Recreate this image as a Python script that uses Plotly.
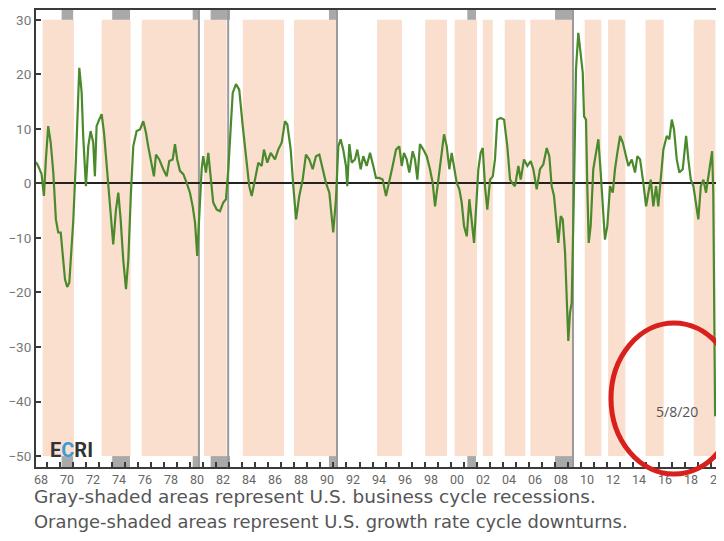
import plotly.graph_objects as go

# ---------------- data ----------------
years = [1968.12, 1968.29, 1968.55, 1968.73, 1968.88, 1969.06, 1969.25, 1969.45, 1969.65, 1969.83,
         1970.02, 1970.22, 1970.35, 1970.52, 1970.68, 1970.86, 1970.98, 1971.19, 1971.29, 1971.45,
         1971.63, 1971.75, 1971.96, 1972.14, 1972.32, 1972.52, 1972.65, 1972.78, 1972.98, 1973.17,
         1973.35, 1973.60, 1973.81, 1974.06, 1974.27, 1974.45, 1974.63, 1974.83, 1975.04, 1975.22,
         1975.42, 1975.60, 1975.86, 1976.12, 1976.37, 1976.58, 1976.75, 1977.02, 1977.19, 1977.35,
         1977.60, 1977.91, 1978.17, 1978.37, 1978.63, 1978.81, 1978.98, 1979.19, 1979.45, 1979.71,
         1979.96, 1980.17, 1980.35, 1980.52, 1980.68, 1980.86, 1980.98, 1981.19, 1981.37, 1981.55,
         1981.75, 1982.02, 1982.27, 1982.52, 1982.73, 1982.91, 1983.04, 1983.25, 1983.50, 1983.75,
         1984.02, 1984.27, 1984.52, 1984.71, 1984.96, 1985.22, 1985.48, 1985.65, 1985.91, 1986.17,
         1986.50, 1986.75, 1987.02, 1987.27, 1987.45, 1987.71, 1987.91, 1988.12, 1988.37, 1988.63,
         1988.88, 1989.14, 1989.40, 1989.65, 1989.91, 1990.17, 1990.42, 1990.68, 1990.86, 1990.98,
         1991.19, 1991.37, 1991.55, 1991.75, 1991.96, 1992.06, 1992.22, 1992.40, 1992.65, 1992.83,
         1993.09, 1993.29, 1993.55, 1993.81, 1994.06, 1994.27, 1994.52, 1994.78, 1995.04, 1995.29,
         1995.55, 1995.81, 1996.06, 1996.25, 1996.42, 1996.63, 1996.83, 1997.09, 1997.27, 1997.45,
         1997.65, 1997.91, 1998.17, 1998.42, 1998.63, 1998.81, 1999.06, 1999.25, 1999.50, 1999.71,
         1999.91, 2000.09, 2000.27, 2000.48, 2000.68, 2000.86, 2001.04, 2001.25, 2001.45, 2001.63,
         2001.81, 2001.96, 2002.14, 2002.32, 2002.48, 2002.65, 2002.83, 2003.04, 2003.25, 2003.42,
         2003.60, 2003.86, 2004.12, 2004.37, 2004.58, 2004.83, 2004.96, 2005.22, 2005.40, 2005.65,
         2005.91, 2006.17, 2006.37, 2006.63, 2006.88, 2007.14, 2007.40, 2007.60, 2007.78, 2007.96,
         2008.17, 2008.29, 2008.48, 2008.63, 2008.81, 2008.94, 2009.06, 2009.19, 2009.32, 2009.50,
         2009.65, 2009.83, 2010.02, 2010.17, 2010.27, 2010.42, 2010.52, 2010.63, 2010.78, 2010.98,
         2011.19, 2011.37, 2011.55, 2011.71, 2011.88, 2012.06, 2012.27, 2012.48, 2012.65, 2012.83,
         2013.04, 2013.25, 2013.42, 2013.68, 2013.94, 2014.19, 2014.37, 2014.58, 2014.83, 2015.04,
         2015.22, 2015.40, 2015.60, 2015.81, 2015.98, 2016.17, 2016.37, 2016.63, 2016.83, 2017.02,
         2017.19, 2017.40, 2017.60, 2017.86, 2018.12, 2018.29, 2018.48, 2018.68, 2018.88, 2019.06,
         2019.25, 2019.45, 2019.65, 2019.83, 2020.01, 2020.12, 2020.21, 2020.27, 2020.31, 2020.35]
growth = [3.9, 3.2, 1.7, -2.3, 4.4, 10.5, 7.5, 2.0, -6.6, -9.0,
          -9.0, -14.0, -17.6, -19.0, -18.2, -11.5, -7.2, 4.4, 11.7, 21.2,
          16.7, 8.7, -0.5, 6.8, 9.6, 7.5, 1.3, 10.5, 11.7, 12.7,
          9.3, 2.6, -4.2, -11.2, -4.8, -1.7, -6.6, -14.0, -19.4, -14.0,
          -1.7, 6.8, 9.6, 9.9, 11.4, 9.3, 6.8, 3.2, 1.3, 5.3,
          4.4, 2.6, 1.3, 4.1, 4.4, 7.2, 4.4, 2.3, 1.7, 0.1,
          -1.7, -4.2, -7.2, -13.3, -4.8, 2.6, 5.0, 2.0, 5.6, 1.3,
          -3.5, -4.8, -5.1, -3.5, -2.9, 2.6, 8.7, 16.6, 18.2, 17.2,
          10.5, 4.4, -0.5, -2.3, 0.7, 3.8, 3.2, 6.2, 3.8, 5.6,
          4.4, 6.2, 7.5, 11.4, 10.8, 6.2, -0.5, -6.6, -2.3, 0.7,
          5.3, 4.4, 2.6, 5.0, 5.3, 2.6, 0.1, -1.7, -5.4, -9.0,
          -2.9, 6.8, 8.1, 6.2, 3.2, -0.5, 7.2, 3.8, 4.4, 6.2,
          2.6, 5.0, 3.2, 5.6, 3.2, 1.0, 1.0, 0.7, -2.3, 0.7,
          3.2, 6.2, 6.8, 3.2, 5.6, 4.4, 2.0, 5.9, 4.4, 0.7,
          7.2, 6.2, 5.0, 2.6, 0.1, -4.2, 0.7, 4.4, 9.0, 6.8,
          2.6, 5.6, 3.2, 0.1, -1.1, -3.5, -7.8, -9.7, -2.9, -6.6,
          -10.9, -4.8, 2.6, 5.6, 6.5, -0.5, -4.8, 0.7, 1.3, 4.4,
          11.7, 12.0, 11.7, 6.8, 0.7, -0.2, -0.5, 3.2, 0.7, 4.4,
          3.2, 4.1, 2.6, -1.1, 2.6, 3.5, 6.5, 5.0, -0.5, -2.3,
          -7.8, -10.9, -6.0, -6.6, -12.7, -23.1, -28.9, -23.7, -21.9, -0.5,
          20.9, 27.6, 24.0, 20.3, 12.3, 11.7, -0.5, -10.9, -7.8, 2.6,
          5.6, 8.1, 2.0, -4.2, -10.3, -7.8, -0.5, -1.7, 2.6, 5.6,
          8.7, 7.5, 5.6, 3.2, 4.4, 2.0, 5.0, 4.4, 0.1, -4.2,
          -1.7, 0.7, -4.2, -0.5, -4.2, 0.7, 6.2, 8.7, 8.1, 11.7,
          9.9, 4.4, 2.0, 2.6, 8.7, 4.4, 0.7, -0.5, -4.2, -6.6,
          -0.5, 0.7, -1.7, 1.3, 4.4, 5.9, -1.7, -25.0, -32.9, -42.7]

# growth rate cycle downturns (orange)
downturn_start = [1968.63, 1973.17, 1976.25, 1981.04, 1984.02, 1987.96, 1994.35, 1998.06, 2000.32,
                  2002.48, 2004.17, 2006.14, 2010.32, 2012.12, 2015.00, 2018.71]
downturn_end = [1971.04, 1975.40, 1980.63, 1982.78, 1987.19, 1991.29, 1996.27, 1999.73, 2002.04,
                2003.25, 2005.75, 2009.48, 2011.60, 2013.45, 2016.40, 2020.37]

# business cycle recessions (gray)
recession_start = [1970.09, 1973.98, 1980.17, 1981.55, 1990.65, 2001.29, 2008.04]
recession_end = [1970.98, 1975.35, 1980.68, 1983.04, 1991.29, 2001.96, 2009.50]
recession_line = [1980.65, 1982.90, 1991.27, 2009.42]

tick_years = list(range(1968, 2021, 2))
tick_labels = ["%02d" % (y % 100) for y in tick_years]
y_ticks = [30, 20, 10, 0, -10, -20, -30, -40, -50]

X_RANGE = [1968.12, 2020.88]
Y_RANGE = [-52.0, 31.8]

# ---------------- figure ----------------
fig = go.Figure()

shapes = []
for s, e in zip(downturn_start, downturn_end):
    shapes.append(dict(type="rect", xref="x", yref="y", x0=s, x1=e, y0=-50, y1=30,
                       fillcolor="#fadfcf", line=dict(width=0), layer="below"))
for s, e in zip(recession_start, recession_end):
    shapes.append(dict(type="rect", xref="x", yref="y", x0=s, x1=e, y0=30, y1=Y_RANGE[1],
                       fillcolor="#a9a9a9", line=dict(width=0), layer="below"))
    shapes.append(dict(type="rect", xref="x", yref="y", x0=s, x1=e, y0=Y_RANGE[0], y1=-50,
                       fillcolor="#a9a9a9", line=dict(width=0), layer="below"))
for xl in recession_line:
    shapes.append(dict(type="line", xref="x", yref="y", x0=xl, x1=xl, y0=Y_RANGE[0], y1=Y_RANGE[1],
                       line=dict(color="#9a9a9a", width=2), layer="below"))
# red circle highlight
shapes.append(dict(type="circle", xref="paper", yref="paper",
                   x0=(611 - 36) / 686, x1=(737 - 36) / 686,
                   y0=(467 - 474) / 457, y1=(467 - 323) / 457,
                   line=dict(color="#d8201c", width=5), layer="above"))

fig.add_trace(go.Scatter(x=years, y=growth, mode="lines",
                         line=dict(color="#4a8a2c", width=2.2), hoverinfo="skip",
                         showlegend=False))

annotations = [
    dict(text="5/8/20", xref="x", yref="y", x=2017.4, y=-41.8, showarrow=False,
         xanchor="center", yanchor="middle",
         font=dict(family="Open Sans", size=14, color="#555555")),
    dict(text="<b>E<span style='color:#3a9ad9'>C</span>RI</b>", xref="paper", yref="paper",
         x=(71 - 36) / 686, y=(467 - 450) / 457, showarrow=False,
         xanchor="center", yanchor="middle",
         font=dict(family="Roboto", size=20, color="#333333")),
    dict(text="Gray-shaded areas represent U.S. business cycle recessions.",
         xref="paper", yref="paper", x=(32 - 36) / 686, y=(467 - 497) / 457,
         xanchor="left", yanchor="middle", showarrow=False,
         font=dict(family="DejaVu Sans", size=18.5, color="#555555")),
    dict(text="Orange-shaded areas represent U.S. growth rate cycle downturns.",
         xref="paper", yref="paper", x=(32 - 36) / 686, y=(467 - 521) / 457,
         xanchor="left", yanchor="middle", showarrow=False,
         font=dict(family="DejaVu Sans", size=17.9, color="#555555")),
]

# the page body adds an 8px offset, so the figure is 8px smaller and margins shifted
fig.update_layout(
    width=716, height=533,
    margin=dict(l=28, r=2, t=2, b=74, autoexpand=False),
    paper_bgcolor="white", plot_bgcolor="white",
    shapes=shapes, annotations=annotations,
    showlegend=False,
    xaxis=dict(range=X_RANGE, showgrid=False, zeroline=False, automargin=False,
               showline=True, linecolor="#3a3a3a", linewidth=2, mirror=True,
               tickmode="array", tickvals=[y + 0.5 for y in tick_years], ticktext=tick_labels,
               ticks="", ticklabeloverflow="allow",
               tickfont=dict(family="Liberation Sans Narrow, Roboto", size=12.5, color="#666666"),
               minor=dict(tickmode="array", tickvals=list(range(1969, 2021)), ticks="inside",
                          ticklen=5, tickcolor="#3a3a3a", tickwidth=1.5)),
    yaxis=dict(range=Y_RANGE, showgrid=False, automargin=False,
               zeroline=True, zerolinecolor="#222222", zerolinewidth=1.5,
               showline=True, linecolor="#3a3a3a", linewidth=2, mirror=True,
               tickmode="array", tickvals=y_ticks, ticks="inside", ticklen=5,
               tickcolor="#3a3a3a", tickwidth=1.5,
               tickfont=dict(family="Liberation Sans Narrow, Roboto", size=13.5, color="#777777")),
)

fig.write_html("out.html")
